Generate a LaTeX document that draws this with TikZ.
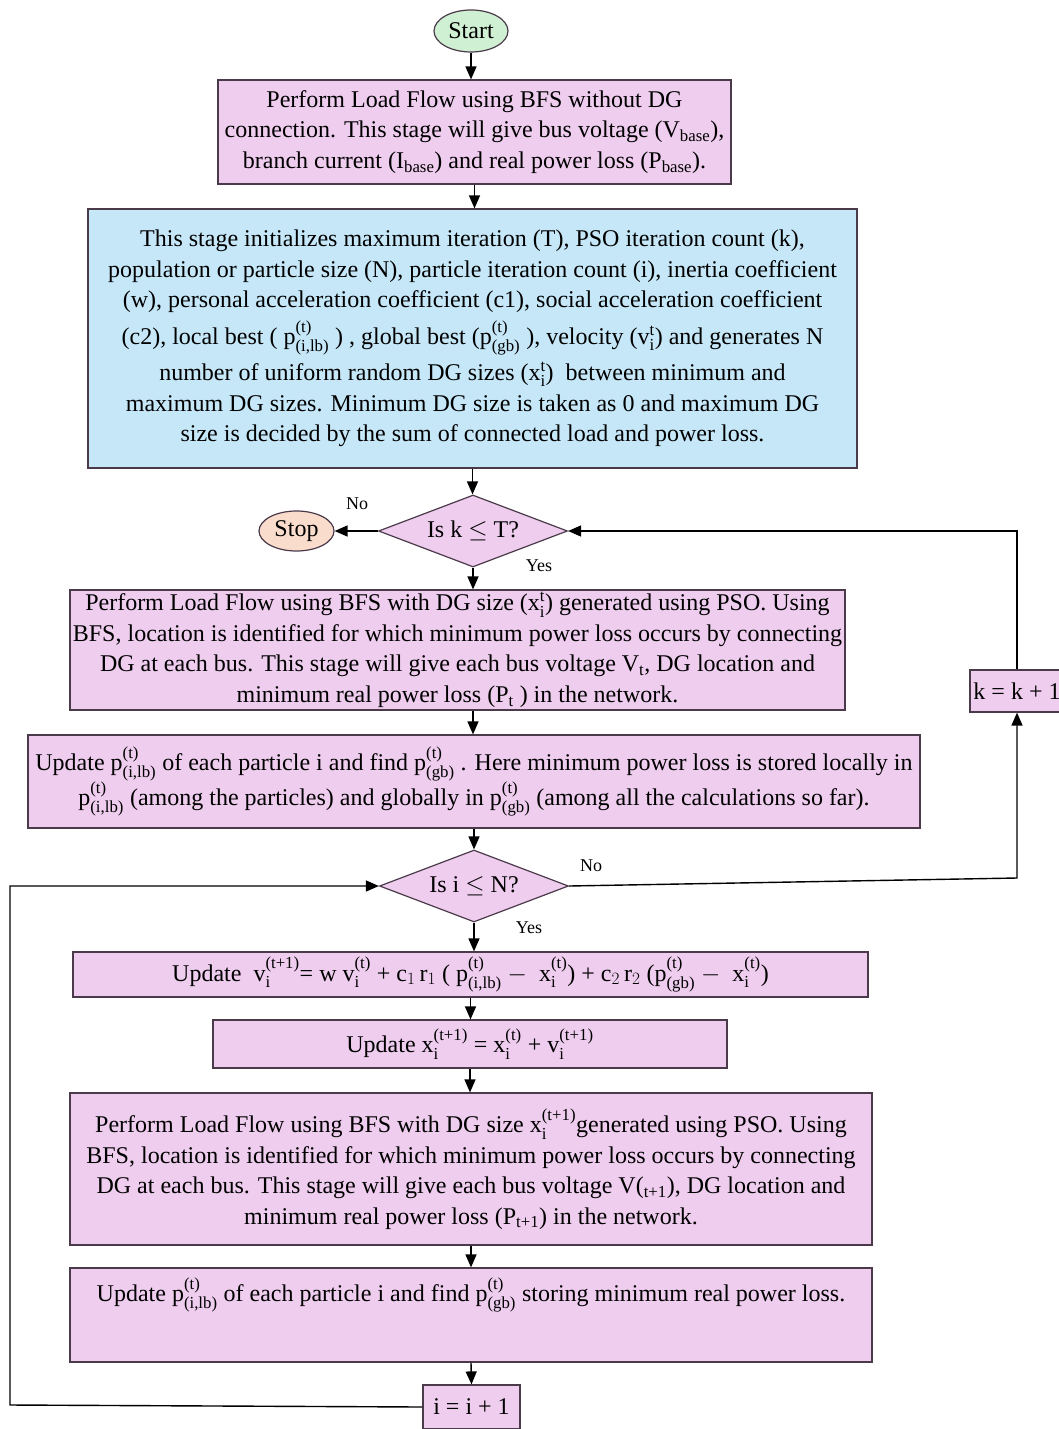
\documentclass[tikz,border=0pt]{standalone}
\usepackage{amsmath}
\usepackage{fontspec}
\setmainfont{Liberation Serif}
\usetikzlibrary{shapes.geometric,arrows.meta}

\definecolor{pinkbox}{HTML}{EFCDEE}
\definecolor{bluebox}{HTML}{C5E7F8}
\definecolor{startgreen}{HTML}{CFF0D2}
\definecolor{stoppeach}{HTML}{F9DCCB}
\definecolor{edgegray}{HTML}{4A3A4A}

% value with stacked super- and subscript, set in the text font
\newcommand{\sbp}[3]{\ensuremath{\text{#1}^{\text{#2}}_{\text{#3}}}}

\begin{document}
\begin{tikzpicture}[
                    x=1pt, y=-1pt,
                    font=\fontsize{24}{30.5}\selectfont,
                    process/.style={
                        rectangle,
                        draw=edgegray,
                        fill=pinkbox,
                        line width=1.2pt,
                        align=center,
                        inner sep=0pt
                    },
                    initbox/.style={
                        process,
                        fill=bluebox
                    },
                    terminal/.style={
                        ellipse,
                        draw=edgegray,
                        line width=1.2pt,
                        inner sep=0pt
                    },
                    decision/.style={
                        diamond,
                        draw=edgegray,
                        fill=pinkbox,
                        line width=1.2pt,
                        aspect=2.6,
                        inner sep=0pt,
                        minimum width=189pt,
                        minimum height=72pt
                    },
                    lbl/.style={font=\fontsize{18}{20}\selectfont},
                    >={Triangle[length=13pt,width=11pt]},
                    flow/.style={->, line width=1.4pt, black}
                ]
                \useasboundingbox (0,0) rectangle (1059,1429);
                \clip (0,0) rectangle (1059,1429);

                \node (start) [terminal, fill=startgreen, minimum width=74pt, minimum height=42pt] at (471,31) {Start};
                \node (base) [process, minimum width=513pt, minimum height=104pt] at (474.5,132)
                    {Perform Load Flow using BFS without DG\\
                     connection. This stage will give bus voltage (V\textsubscript{base}),\\
                     branch current (I\textsubscript{base}) and real power loss (P\textsubscript{base}).};
                \node (init) [initbox, minimum width=769pt, minimum height=259pt] at (472.5,338.5)
                    {This stage initializes maximum iteration (T), PSO iteration count (k),\\
                     population or particle size (N), particle iteration count (i), inertia coefficient\\
                     (w), personal acceleration coefficient (c1), social acceleration coefficient\\[6pt]
                     (c2), local best ( \sbp{p}{(t)}{(i,lb)} ) , global best (\sbp{p}{(t)}{(gb)} ), velocity (\sbp{v}{t}{i}) and generates N\\[6pt]
                     number of uniform random DG sizes (\sbp{x}{t}{i})\ \ between minimum and\\
                     maximum DG sizes. Minimum DG size is taken as 0 and maximum DG\\
                     size is decided by the sum of connected load and power loss.};
                \node (ktest) [decision] at (473,531) {Is k $\leq$ T?};
                \node (stop) [terminal, fill=stoppeach, minimum width=75pt, minimum height=40pt] at (296.5,531) {Stop};
                \node (flowt) [process, minimum width=775pt, minimum height=120pt] at (457.5,650)
                    {Perform Load Flow using BFS with DG size (\sbp{x}{t}{i}) generated using PSO. Using\\
                     BFS, location is identified for which minimum power loss occurs by connecting\\
                     DG at each bus. This stage will give each bus voltage V\textsubscript{t}, DG location and\\
                     minimum real power loss (P\textsubscript{t} ) in the network.};
                \node (best) [process, minimum width=892pt, minimum height=93pt] at (474,781.5)
                    {Update \sbp{p}{(t)}{(i,lb)} of each particle i and find \sbp{p}{(t)}{(gb)} . Here minimum power loss is stored locally in\\
                     \sbp{p}{(t)}{(i,lb)} (among the particles) and globally in \sbp{p}{(t)}{(gb)} (among all the calculations so far).};
                \node (itest) [decision] at (474,886) {Is i $\leq$ N?};
                \node (kinc) [process, minimum width=94pt, minimum height=42pt] at (1017,691) {k = k + 1};
                \node (vel) [process, minimum width=795pt, minimum height=45pt] at (470.5,974.5)
                    {Update\ \ \sbp{v}{(t+1)}{i}= w \sbp{v}{(t)}{i} + $\text{c}_1\,\text{r}_1$ ( \sbp{p}{(t)}{(i,lb)} $-$\ \ \sbp{x}{(t)}{i}) + $\text{c}_2\,\text{r}_2$ (\sbp{p}{(t)}{(gb)} $-$\ \ \sbp{x}{(t)}{i})};
                \node (pos) [process, minimum width=514pt, minimum height=48pt] at (470,1044)
                    {Update \sbp{x}{(t+1)}{i} = \sbp{x}{(t)}{i} + \sbp{v}{(t+1)}{i}};
                \node (flownext) [process, minimum width=802pt, minimum height=152pt] at (471,1169)
                    {Perform Load Flow using BFS with DG size \sbp{x}{(t+1)}{i}generated using PSO. Using\\
                     BFS, location is identified for which minimum power loss occurs by connecting\\
                     DG at each bus. This stage will give each bus voltage V(\textsubscript{t+1}), DG location and\\
                     minimum real power loss (P\textsubscript{t+1}) in the network.};
                \node (store) [process, minimum width=802pt, minimum height=94pt, text depth=50pt] at (471,1315)
                    {Update \sbp{p}{(t)}{(i,lb)} of each particle i and find \sbp{p}{(t)}{(gb)} storing minimum real power loss.};
                \node (iinc) [process, minimum width=97pt, minimum height=44pt] at (471.5,1407) {i = i + 1};

                \node (ktestno) [lbl] at (357,504) {No};
                \node (ktestyes) [lbl] at (539,566) {Yes};
                \node (itestno) [lbl] at (591,866) {No};
                \node (itestyes) [lbl] at (529,928) {Yes};

                \coordinate (kturn) at (1017,878);
                \coordinate (iturn) at (10,1405);

                \draw [flow] (start.south) -- (start.south |- base.north);
                \draw [flow] (base.south) -- (base.south |- init.north);
                \draw [flow] (init.south) -- (init.south |- ktest.north);
                \draw [flow] (ktest.west) -- (stop.east);
                \draw [flow] (ktest.south) -- (ktest.south |- flowt.north);
                \draw [flow] (ktest.south |- flowt.south) -- (ktest.south |- best.north);
                \draw [flow] (itest.north |- best.south) -- (itest.north);
                \draw [flow] (itest.south) -- (itest.south |- vel.north);
                \draw [flow] (vel.south) -- (vel.south |- pos.north);
                \draw [flow] (pos.south) -- (pos.south |- flownext.north);
                \draw [flow] (flownext.south) -- (store.north);
                \draw [flow] (store.south) -- (iinc.north);
                \draw [flow] (itest.east) -- (kturn) -- (kinc.south);
                \draw [flow] (kinc.north) |- (ktest.east);
                \draw [flow] (iinc.west) -- (iturn) |- (itest.west);
            \end{tikzpicture}
\end{document}
